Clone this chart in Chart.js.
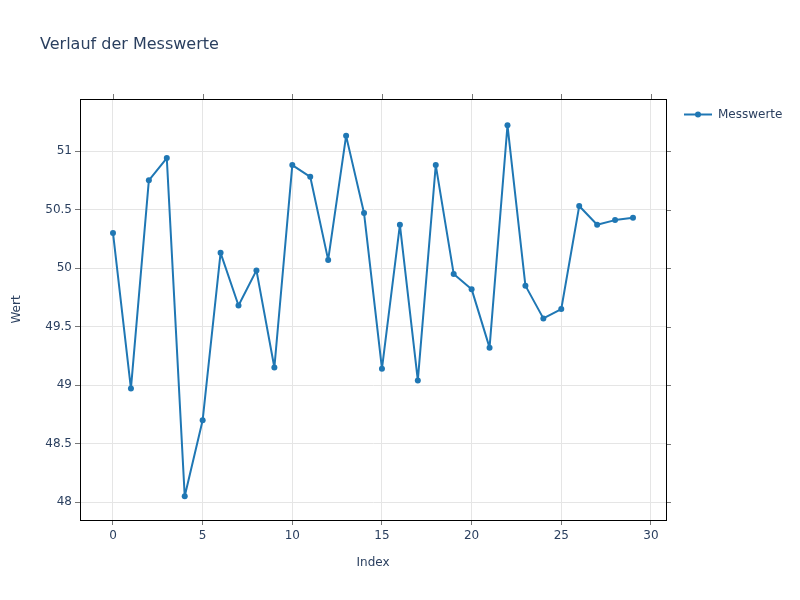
<!DOCTYPE html>
<html>
<head>
<meta charset="utf-8">
<script src="https://cdn.jsdelivr.net/npm/chart.js@4"></script>
<style>
  body { margin: 0; background: #fff; }
  #box { width: 800px; height: 600px; }
</style>
</head>
<body>
<div id="box"><canvas id="graphMesswerte"></canvas></div>
<script>
// Werte
var titel = "Verlauf der Messwerte";
var serienName = "Messwerte";
var indizes = [0,1,2,3,4,5,6,7,8,9,10,11,12,13,14,15,16,17,18,19,20,21,22,23,24,25,26,27,28,29];
var messwerte = [50.30, 48.97, 50.75, 50.94, 48.05, 48.70, 50.13, 49.68, 49.98, 49.15,
                 50.88, 50.78, 50.07, 51.13, 50.47, 49.14, 50.37, 49.04, 50.88, 49.95,
                 49.82, 49.32, 51.22, 49.85, 49.57, 49.65, 50.53, 50.37, 50.41, 50.43];

var schrift = "DejaVu Sans";
var textFarbe = "#2a3f5f";
var linienFarbe = "#1f77b4";

var punkte = [];
for (var i in indizes)
    punkte.push({x: indizes[i], y: messwerte[i]});

// Rahmen, gespiegelte Ticks, Titel und Legende
var rahmen = {
    id: 'rahmen',
    afterDraw: function(chart) {
        var ctx = chart.ctx;
        var a = chart.chartArea;
        var sx = chart.scales.x;
        var sy = chart.scales.y;
        ctx.save();

        ctx.strokeStyle = "#777";
        ctx.lineWidth = 1;
        sx.ticks.forEach(function(t) {
            var px = Math.round(sx.getPixelForValue(t.value)) + 0.5;
            ctx.beginPath();
            ctx.moveTo(px, a.top - 5);
            ctx.lineTo(px, a.top);
            ctx.stroke();
        });
        sy.ticks.forEach(function(t) {
            var py = Math.round(sy.getPixelForValue(t.value)) + 0.5;
            ctx.beginPath();
            ctx.moveTo(a.right, py);
            ctx.lineTo(a.right + 5, py);
            ctx.stroke();
        });

        ctx.strokeStyle = "#000";
        ctx.strokeRect(Math.round(a.left) + 0.5, Math.round(a.top) + 0.5,
                       Math.round(a.right - a.left), Math.round(a.bottom - a.top));

        ctx.fillStyle = textFarbe;
        ctx.font = "16px '" + schrift + "'";
        ctx.textAlign = "left";
        ctx.textBaseline = "middle";
        ctx.fillText(titel, 40, 45);

        // Legende
        ctx.strokeStyle = linienFarbe;
        ctx.lineWidth = 2;
        ctx.beginPath();
        ctx.moveTo(684, 114.5);
        ctx.lineTo(712, 114.5);
        ctx.stroke();
        ctx.fillStyle = linienFarbe;
        ctx.beginPath();
        ctx.arc(698, 114.5, 3, 0, Math.PI * 2);
        ctx.fill();
        ctx.fillStyle = textFarbe;
        ctx.font = "12px '" + schrift + "'";
        ctx.fillText(serienName, 718, 115);

        ctx.restore();
    }
};

var graphTarget = document.getElementById("graphMesswerte");

var myGraph = new Chart(graphTarget, {
    type: 'line',
    data: {
        datasets: [{
            label: serienName,
            data: punkte,
            borderColor: linienFarbe,
            backgroundColor: linienFarbe,
            borderWidth: 2,
            borderJoinStyle: 'round',
            pointRadius: 3,
            pointBorderWidth: 0,
            pointHoverRadius: 3,
            tension: 0,
            fill: false
        }]
    },
    options: {
        responsive: true,
        maintainAspectRatio: false,
        animation: false,
        layout: {
            padding: { left: 0, right: 134, top: 99, bottom: 0 }
        },
        plugins: {
            legend: { display: false },
            tooltip: { enabled: false }
        },
        scales: {
            x: {
                type: 'linear',
                min: -1.84,
                max: 30.84,
                afterFit: function(s) { s.height = 80; },
                ticks: {
                    stepSize: 5,
                    includeBounds: false,
                    padding: 4,
                    color: textFarbe,
                    font: { family: schrift, size: 12 },
                    maxRotation: 0,
                    callback: function(v) { return String(v); }
                },
                grid: {
                    color: "#e5e5e5",
                    tickColor: "#777",
                    tickLength: 5
                },
                border: { display: true, color: "#000" },
                title: {
                    display: true,
                    text: "Index",
                    color: textFarbe,
                    font: { family: schrift, size: 12 },
                    padding: { top: 0, bottom: 30 }
                }
            },
            y: {
                type: 'linear',
                min: 47.847,
                max: 51.445,
                afterFit: function(s) { s.width = 80; },
                ticks: {
                    stepSize: 0.5,
                    includeBounds: false,
                    padding: 3,
                    color: textFarbe,
                    font: { family: schrift, size: 12 },
                    callback: function(v) { return String(v); }
                },
                grid: {
                    color: "#e5e5e5",
                    tickColor: "#777",
                    tickLength: 5
                },
                border: { display: true, color: "#000" },
                title: {
                    display: true,
                    text: "Wert",
                    color: textFarbe,
                    font: { family: schrift, size: 12 },
                    padding: { top: 10, bottom: 0 }
                }
            }
        }
    },
    plugins: [rahmen]
});
</script>
</body>
</html>
